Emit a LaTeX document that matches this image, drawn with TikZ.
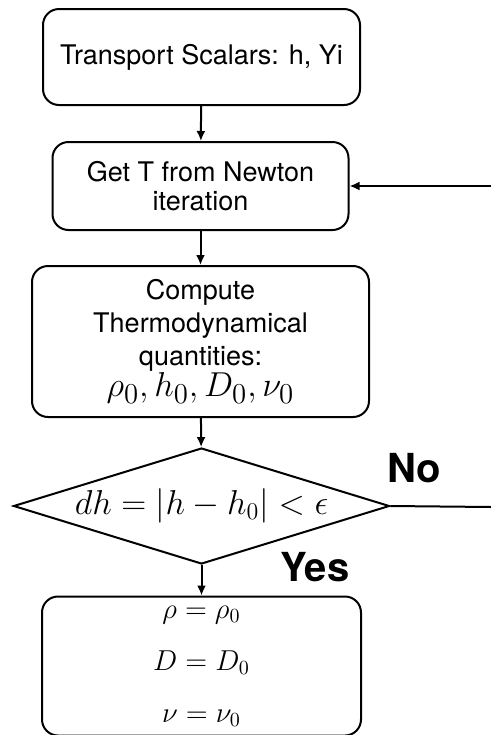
\documentclass[tikz,border=0pt]{standalone}
\usepackage{amsmath,amssymb}
\usepackage{fontspec}
\setmainfont{TeX Gyre Heros}
\usetikzlibrary{arrows.meta,positioning,shapes.geometric}

\begin{document}
\begin{tikzpicture}[x=0.5pt, y=-0.5pt, line width=1pt,
    procbox/.style={draw,rounded corners=8pt,align=center,inner sep=0pt,
      font=\fontsize{13.5}{13.5}\selectfont},
    decide/.style={draw,diamond,inner sep=0pt,aspect=3.2,
      minimum width=188pt,minimum height=58pt},
    answer/.style={font=\fontsize{20}{20}\selectfont\bfseries}]
    \useasboundingbox (0,0) rectangle (491,735);
    % process boxes
    \node[procbox,minimum width=158.5pt,minimum height=48pt] (scal) at (201.5,57)
      {Transport Scalars: h, Yi};
    \node[procbox,minimum width=148pt,minimum height=44pt,
      font=\fontsize{13.5}{14.5}\selectfont] (newt) at (200.5,186)
      {Get T from Newton\\iteration};
    \node[procbox,minimum width=168.5pt,minimum height=75.5pt,
      font=\fontsize{13.5}{16.5}\selectfont] (thermo) at (200.5,341.5)
      {Compute\\Thermodynamical\\quantities:\\[-1pt]
       {\fontsize{19}{19}\selectfont$\rho_0, h_0, D_0, \nu_0$}};
    % convergence test
    \node[decide] (test) at (201.5,506)
      {\fontsize{17.5}{17.5}\selectfont$dh=|h-h_0|<\epsilon$};
    \node[procbox,minimum width=159.5pt,minimum height=69.5pt,
      font=\fontsize{14.5}{26}\selectfont] (upd) at (201.5,666)
      {$\rho=\rho_0$\\$D=D_0$\\$\nu=\nu_0$};
    \node[answer] (no) at (414,468) {No};
    \node[answer] (yes) at (315,567) {Yes};
    \coordinate (back) at (491,186);
    \coordinate (out) at (491,507);
    % connectors
    \draw[-{Latex[length=5pt,width=4.5pt]}] (scal) -- (newt);
    \draw[-{Latex[length=5pt,width=4.5pt]}] (newt) -- (thermo);
    \draw[-{Latex[length=5pt,width=4.5pt]}] (thermo) -- (test);
    \draw[-{Latex[length=5pt,width=4.5pt]}] (test) -- (upd);
    \draw[-{Latex[length=5pt,width=4.5pt]}] (back) -- (newt);
    \draw (test.east) -- (out);
\end{tikzpicture}
\end{document}
